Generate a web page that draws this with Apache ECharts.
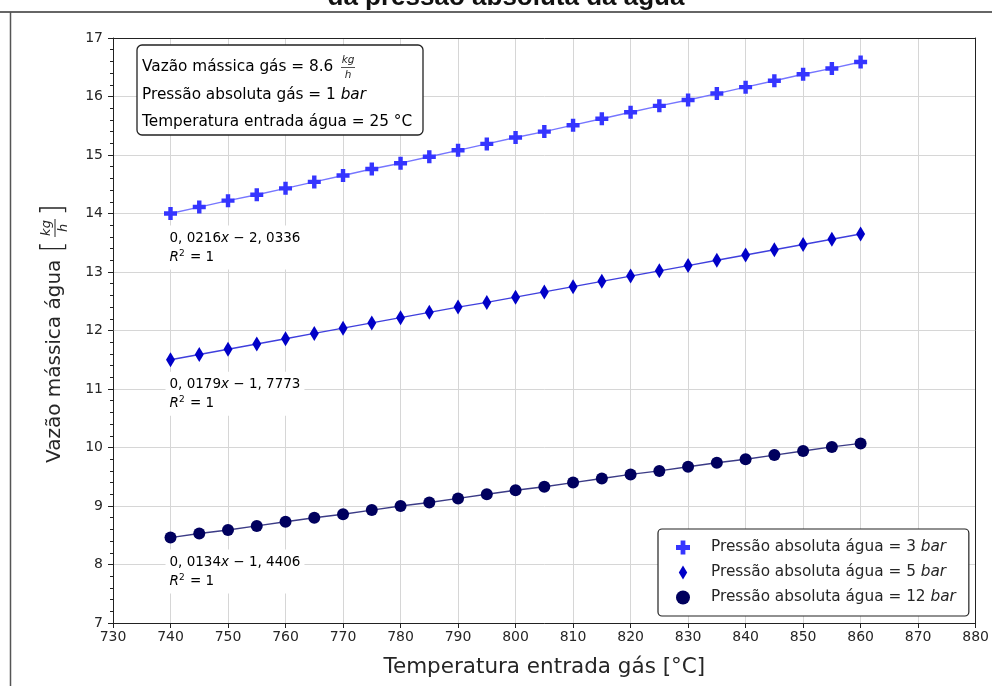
<!DOCTYPE html>
<html>
<head>
<meta charset="utf-8">
<script src="https://cdn.jsdelivr.net/npm/echarts@6/dist/echarts.min.js"></script>
<style>
  html, body { margin: 0; padding: 0; background: #fff; }
  #main { width: 992px; height: 686px; }
</style>
</head>
<body>
<div id="main"></div>
<script>
// dados
var temps = [740, 745, 750, 755, 760, 765, 770, 775, 780, 785, 790, 795, 800,
             805, 810, 815, 820, 825, 830, 835, 840, 845, 850, 855, 860];
var agua3bar = [14.00, 14.11, 14.22, 14.32, 14.43, 14.54, 14.65, 14.76, 14.86, 14.97, 15.08, 15.19, 15.30,
                15.40, 15.51, 15.62, 15.73, 15.84, 15.94, 16.05, 16.16, 16.27, 16.38, 16.48, 16.59];
var agua5bar = [11.50, 11.59, 11.68, 11.77, 11.86, 11.95, 12.04, 12.13, 12.22, 12.31, 12.40, 12.48, 12.57,
                12.66, 12.75, 12.84, 12.93, 13.02, 13.11, 13.20, 13.29, 13.38, 13.47, 13.56, 13.65];
var agua12bar = [8.46, 8.53, 8.59, 8.66, 8.73, 8.80, 8.86, 8.93, 9.00, 9.06, 9.13, 9.20, 9.27,
                 9.33, 9.40, 9.47, 9.54, 9.60, 9.67, 9.74, 9.80, 9.87, 9.94, 10.01, 10.07];
var nomes = ['Pressão absoluta água = 3 bar', 'Pressão absoluta água = 5 bar', 'Pressão absoluta água = 12 bar'];
var ajustes = [['0, 0216', ' − 2, 0336'], ['0, 0179', ' − 1, 7773'], ['0, 0134', ' − 1, 4406']];
var xMin = 730, xMax = 880, xStep = 10;
var yMin = 7, yMax = 17, yStep = 1;

var FONT = "'DejaVu Sans', sans-serif";
var TXT = '#262626';
var marcadores = [
    'path://M3.3,0H6.7V3.3H10V6.7H6.7V10H3.3V6.7H0V3.3H3.3Z',
    'path://M3,0L6,5L3,10L0,5Z',
    'circle'
];
var tamanhos = [13, 15, 12];
var coresMarc = ['#3535ff', '#0000c8', '#00005e'];
var coresLinha = ['#7676ff', '#3f3fdd', '#3b3b86'];
var valores = [agua3bar, agua5bar, agua12bar];

var chart = echarts.init(document.getElementById('main'));

var series = [];
valores.forEach(function (v, k) {
    var pts = temps.map(function (t, i) { return [t, v[i]]; });
    series.push({
        type: 'line', data: pts, showSymbol: false, silent: true,
        lineStyle: { color: coresLinha[k], width: 1.4 }, z: 2
    });
});
valores.forEach(function (v, k) {
    var pts = temps.map(function (t, i) { return [t, v[i]]; });
    series.push({
        name: nomes[k], type: 'scatter', data: pts,
        symbol: marcadores[k], symbolSize: tamanhos[k], symbolKeepAspect: true,
        itemStyle: { color: coresMarc[k], opacity: 1 }, z: 3
    });
});

var eixoX = {
    type: 'value', min: xMin, max: xMax, interval: xStep,
    name: 'Temperatura entrada gás [°C]', nameLocation: 'middle', nameGap: 33,
    nameTextStyle: { fontFamily: FONT, fontSize: 21.5, color: TXT },
    axisLine: { show: true, onZero: false, lineStyle: { color: '#222', width: 1 } },
    axisTick: { show: true, inside: false, length: 5, lineStyle: { color: '#222' } },
    axisLabel: { fontFamily: FONT, fontSize: 14, color: TXT, margin: 7 },
    splitLine: { show: true, lineStyle: { color: '#d6d6d6', width: 1 } }
};
var eixoY = {
    type: 'value', min: yMin, max: yMax, interval: yStep,
    axisLine: { show: true, onZero: false, lineStyle: { color: '#222', width: 1 } },
    axisTick: { show: true, inside: false, length: 5, lineStyle: { color: '#222' } },
    minorTick: { show: true, splitNumber: 5, length: 3, lineStyle: { color: '#222' } },
    axisLabel: { fontFamily: FONT, fontSize: 14, color: TXT, margin: 10 },
    splitLine: { show: true, lineStyle: { color: '#d6d6d6', width: 1 } }
};

chart.setOption({
    animation: false,
    backgroundColor: '#fff',
    grid: { left: 113, right: 15, top: 38, bottom: 63 },
    xAxis: [eixoX, {
        type: 'value', min: xMin, max: xMax, position: 'top',
        axisLine: { show: true, onZero: false, lineStyle: { color: '#222' } },
        axisTick: { show: false }, axisLabel: { show: false }, splitLine: { show: false }
    }],
    yAxis: [eixoY, {
        type: 'value', min: yMin, max: yMax, position: 'right',
        axisLine: { show: true, onZero: false, lineStyle: { color: '#222' } },
        axisTick: { show: false }, axisLabel: { show: false }, splitLine: { show: false }
    }],
    legend: {
        data: nomes, orient: 'vertical', left: 658, top: 529,
        itemWidth: 36, itemHeight: 14, itemGap: 10,
        padding: [11, 13, 11, 18],
        backgroundColor: '#fff', borderColor: '#222', borderWidth: 1.2, borderRadius: 4,
        selectedMode: false, z: 10,
        formatter: function (name) {
            var p = name.replace(' bar', '');
            return '{n|' + p + ' }{i|bar}';
        },
        textStyle: {
            fontFamily: FONT, fontSize: 15.3, color: TXT, padding: [0, 0, 0, 5],
            rich: {
                n: { fontFamily: FONT, fontSize: 15.3, color: TXT },
                i: { fontFamily: FONT, fontSize: 15.3, color: TXT, fontStyle: 'italic' }
            }
        }
    },
    series: series
});

// anotações das retas de ajuste, posicionadas pela escala do gráfico
var graficos = [];
valores.forEach(function (v, k) {
    var p = chart.convertToPixel({ gridIndex: 0 }, [temps[0], v[0]]);
    graficos.push({
        type: 'text', x: p[0] - 5, y: p[1] + 12, z: 5,
        style: {
            text: '{n|' + ajustes[k][0] + '}{i|x}{n|' + ajustes[k][1] + '}\n{i|R}{s|2}{n| = 1}',
            backgroundColor: '#fff', padding: [3, 4, 3, 4], lineHeight: 19,
            rich: {
                n: { fontFamily: FONT, fontSize: 13.5, color: TXT, lineHeight: 19 },
                i: { fontFamily: FONT, fontSize: 13.5, color: TXT, fontStyle: 'italic', lineHeight: 19 },
                s: { fontFamily: FONT, fontSize: 9, color: TXT, padding: [0, 1, 7, 0], lineHeight: 19 }
            }
        }
    });
});

// caixa de informações
graficos.push({
    type: 'rect', z: 6,
    shape: { x: 137, y: 45, width: 286, height: 90, r: 5 },
    style: { fill: '#fff', stroke: '#222', lineWidth: 1.3 }
});
var infoRich = {
    n: { fontFamily: FONT, fontSize: 15.3, color: TXT },
    i: { fontFamily: FONT, fontSize: 15.3, color: TXT, fontStyle: 'italic' }
};
graficos.push({ type: 'text', x: 142, y: 67, z: 7,
    style: { text: '{n|Vazão mássica gás = 8.6}', verticalAlign: 'middle', rich: infoRich } });
graficos.push({ type: 'text', x: 348, y: 60, z: 7,
    style: { text: 'kg', align: 'center', verticalAlign: 'middle', fontFamily: FONT, fontSize: 10.5, fontStyle: 'italic', fill: TXT } });
graficos.push({ type: 'line', z: 7, shape: { x1: 341, y1: 67.5, x2: 355, y2: 67.5 }, style: { stroke: TXT, lineWidth: 0.8 } });
graficos.push({ type: 'text', x: 348, y: 75, z: 7,
    style: { text: 'h', align: 'center', verticalAlign: 'middle', fontFamily: FONT, fontSize: 10.5, fontStyle: 'italic', fill: TXT } });
graficos.push({ type: 'text', x: 142, y: 95, z: 7,
    style: { text: '{n|Pressão absoluta gás = 1 }{i|bar}', verticalAlign: 'middle', rich: infoRich } });
graficos.push({ type: 'text', x: 142, y: 122, z: 7,
    style: { text: '{n|Temperatura entrada água = 25 °C}', verticalAlign: 'middle', rich: infoRich } });

// rótulo do eixo y (rotacionado)
graficos.push({
    type: 'group', x: 55, y: 463, rotation: Math.PI / 2, z: 7,
    children: [
        { type: 'text', x: 0, y: 0, style: { text: 'Vazão mássica água', verticalAlign: 'middle', fontFamily: FONT, fontSize: 20, fill: TXT } },
        { type: 'text', x: 216, y: -1, style: { text: '[', align: 'center', verticalAlign: 'middle', fontFamily: FONT, fontSize: 30, fontWeight: 'lighter', fill: TXT } },
        { type: 'text', x: 235, y: -8, style: { text: 'kg', align: 'center', verticalAlign: 'middle', fontFamily: FONT, fontSize: 13, fontStyle: 'italic', fill: TXT } },
        { type: 'line', shape: { x1: 226, y1: 0, x2: 244, y2: 0 }, style: { stroke: TXT, lineWidth: 1 } },
        { type: 'text', x: 235, y: 9, style: { text: 'h', align: 'center', verticalAlign: 'middle', fontFamily: FONT, fontSize: 13, fontStyle: 'italic', fill: TXT } },
        { type: 'text', x: 253, y: -1, style: { text: ']', align: 'center', verticalAlign: 'middle', fontFamily: FONT, fontSize: 30, fontWeight: 'lighter', fill: TXT } }
    ]
});

// título cortado e moldura
graficos.push({ type: 'text', x: 506, y: 11, z: 7,
    style: { text: 'da pressão absoluta da água', align: 'center', verticalAlign: 'bottom',
             fontFamily: "'Liberation Sans', Arial, sans-serif", fontWeight: 'bold', fontSize: 26, fill: '#111' } });
graficos.push({ type: 'line', z: 7, shape: { x1: 0, y1: 12, x2: 992, y2: 12 }, style: { stroke: '#333', lineWidth: 1.5 } });
graficos.push({ type: 'line', z: 7, shape: { x1: 10.5, y1: 12, x2: 10.5, y2: 686 }, style: { stroke: '#555', lineWidth: 1.5 } });

chart.setOption({ graphic: graficos });
</script>
</body>
</html>
